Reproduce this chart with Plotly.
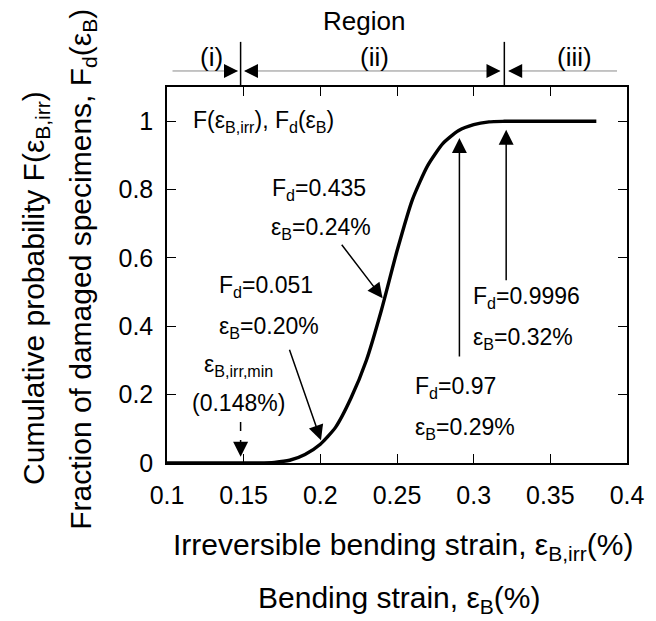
import plotly.graph_objects as go

# Data
strain = [0.10, 0.15, 0.16, 0.17, 0.18, 0.19, 0.20, 0.21, 0.22, 0.23, 0.24,
          0.25, 0.26, 0.27, 0.28, 0.29, 0.30, 0.31, 0.32, 0.33, 0.38]
cum_prob = [0.0, 0.0, 0.0002, 0.002, 0.008, 0.025, 0.055, 0.105, 0.19, 0.30, 0.45,
            0.62, 0.77, 0.87, 0.935, 0.972, 0.99, 0.998, 0.9996, 1.0, 1.0]

x_ticks = [0.1, 0.15, 0.2, 0.25, 0.3, 0.35, 0.4]
x_ticktext = ["0.1", "0.15", "0.2", "0.25", "0.3", "0.35", "0.4"]
y_ticks = [0, 0.2, 0.4, 0.6, 0.8, 1.0]
y_ticktext = ["0", "0.2", "0.4", "0.6", "0.8", "1"]

region_bounds = [0.148, 0.32]
region_labels = ["(i)", "(ii)", "(iii)"]
region_label_x = [0.129, 0.2356, 0.3655]

FONT = "Arial, Liberation Sans, sans-serif"
TXT = 23
TITLE = 30

fig = go.Figure()
fig.add_trace(go.Scatter(x=strain, y=cum_prob, mode="lines",
                         line=dict(color="black", width=3.4, shape="spline", smoothing=0.6),
                         hoverinfo="skip", showlegend=False))

ann = []
def text(x, y, s, xref="x", yref="y", size=TXT, angle=0, xanchor="center", yanchor="middle"):
    ann.append(dict(x=x, y=y, xref=xref, yref=yref, text=s, showarrow=False,
                    font=dict(family=FONT, size=size, color="black"), textangle=angle,
                    xanchor=xanchor, yanchor=yanchor))

def arrow(x, y, ax, ay, color="black", width=1.5, size=2.0, head=2, yref="y"):
    ann.append(dict(x=x, y=y, xref="x", yref=yref, ax=ax, ay=ay, axref="pixel", ayref="pixel",
                    text="", showarrow=True, arrowhead=head, arrowsize=size,
                    arrowwidth=width, arrowcolor=color))

# Inner texts
text(0.1155, 1.0, "F(ε<sub>B,irr</sub>), F<sub>d</sub>(ε<sub>B</sub>)", xanchor="left")
text(0.1672, 0.80, "F<sub>d</sub>=0.435", xanchor="left")
text(0.1662, 0.685, "ε<sub>B</sub>=0.24%", xanchor="left")
text(0.1325, 0.515, "F<sub>d</sub>=0.051", xanchor="left")
text(0.1325, 0.395, "ε<sub>B</sub>=0.20%", xanchor="left")
text(0.1465, 0.285, "ε<sub>B,irr,min</sub>", xanchor="center")
text(0.1465, 0.175, "(0.148%)", xanchor="center")
text(0.2983, 0.485, "F<sub>d</sub>=0.9996", xanchor="left")
text(0.2983, 0.365, "ε<sub>B</sub>=0.32%", xanchor="left")
text(0.2605, 0.22, "F<sub>d</sub>=0.97", xanchor="left")
text(0.2605, 0.10, "ε<sub>B</sub>=0.29%", xanchor="left")

# Arrows in plot
arrow(0.2004, 0.0666, -32, -92)
arrow(0.2406, 0.482, -42, -55)
arrow(0.2907, 0.951, 0, 220)
arrow(0.3212, 0.975, 0, 152)
# dashed arrow head
arrow(0.148, 0.018, 0, -15)

shapes = [dict(type="line", xref="x", yref="y", x0=0.148, x1=0.148, y0=0.12, y1=0.055,
               line=dict(color="black", width=1.5, dash="dash"))]

# Region bar above plot
ry = 1.0426
shapes.append(dict(type="line", xref="x", yref="paper", x0=0.1036, x1=0.146, y0=ry, y1=ry,
                   line=dict(color="#8a8a8a", width=1)))
shapes.append(dict(type="line", xref="x", yref="paper", x0=0.151, x1=0.317, y0=ry, y1=ry,
                   line=dict(color="#8a8a8a", width=1)))
shapes.append(dict(type="line", xref="x", yref="paper", x0=0.323, x1=0.3935, y0=ry, y1=ry,
                   line=dict(color="#8a8a8a", width=1)))
for b in region_bounds:
    shapes.append(dict(type="line", xref="x", yref="paper", x0=b, x1=b, y0=1.005, y1=1.12,
                       line=dict(color="black", width=1.5)))
# region arrow heads
arrow(0.1463, ry, -12, 0, yref="paper", width=1.4, size=2.0)
arrow(0.1502, ry, 12, 0, yref="paper", width=1.4, size=2.0)
arrow(0.3175, ry, -12, 0, yref="paper", width=1.4, size=2.0)
arrow(0.3225, ry, 12, 0, yref="paper", width=1.4, size=2.0)
for lx, lt in zip(region_label_x, region_labels):
    text(lx, 1.08, lt, yref="paper", size=26)
text(0.2282, 1.175, "Region", yref="paper", size=26)

# Axis titles
text(-0.2875, 0.465, "Cumulative probability F(ε<sub>B,irr</sub>)", xref="paper", yref="paper", size=TITLE, angle=-90)
text(-0.183, 0.516, "Fraction of damaged specimens, F<sub>d</sub>(ε<sub>B</sub>)", xref="paper", yref="paper", size=TITLE, angle=-90)
text(0.512, -0.222, "Irreversible bending strain, ε<sub>B,irr</sub>(%)", xref="paper", yref="paper", size=TITLE)
text(0.505, -0.362, "Bending strain, ε<sub>B</sub>(%)", xref="paper", yref="paper", size=TITLE)

fig.update_layout(
    width=656, height=621,
    margin=dict(l=167, r=19, t=87, b=158),
    paper_bgcolor="white", plot_bgcolor="white",
    annotations=ann, shapes=shapes,
    font=dict(family=FONT, size=TXT, color="black"),
    showlegend=False,
)
fig.update_xaxes(range=[0.1, 0.4], tickvals=x_ticks, ticktext=x_ticktext,
                 ticks="inside", ticklen=9, tickwidth=1.2, tickcolor="black",
                 showline=True, linecolor="black", linewidth=1.5, mirror="ticks",
                 showgrid=False, zeroline=False, ticklabelstandoff=9,
                 tickfont=dict(family=FONT, size=25, color="black"))
fig.update_yaxes(range=[0, 1.1], tickvals=y_ticks, ticktext=y_ticktext,
                 ticks="inside", ticklen=9, tickwidth=1.2, tickcolor="black",
                 showline=True, linecolor="black", linewidth=1.5, mirror="ticks",
                 showgrid=False, zeroline=False, ticklabelstandoff=7,
                 tickfont=dict(family=FONT, size=25, color="black"))

fig.write_html("out.html")
